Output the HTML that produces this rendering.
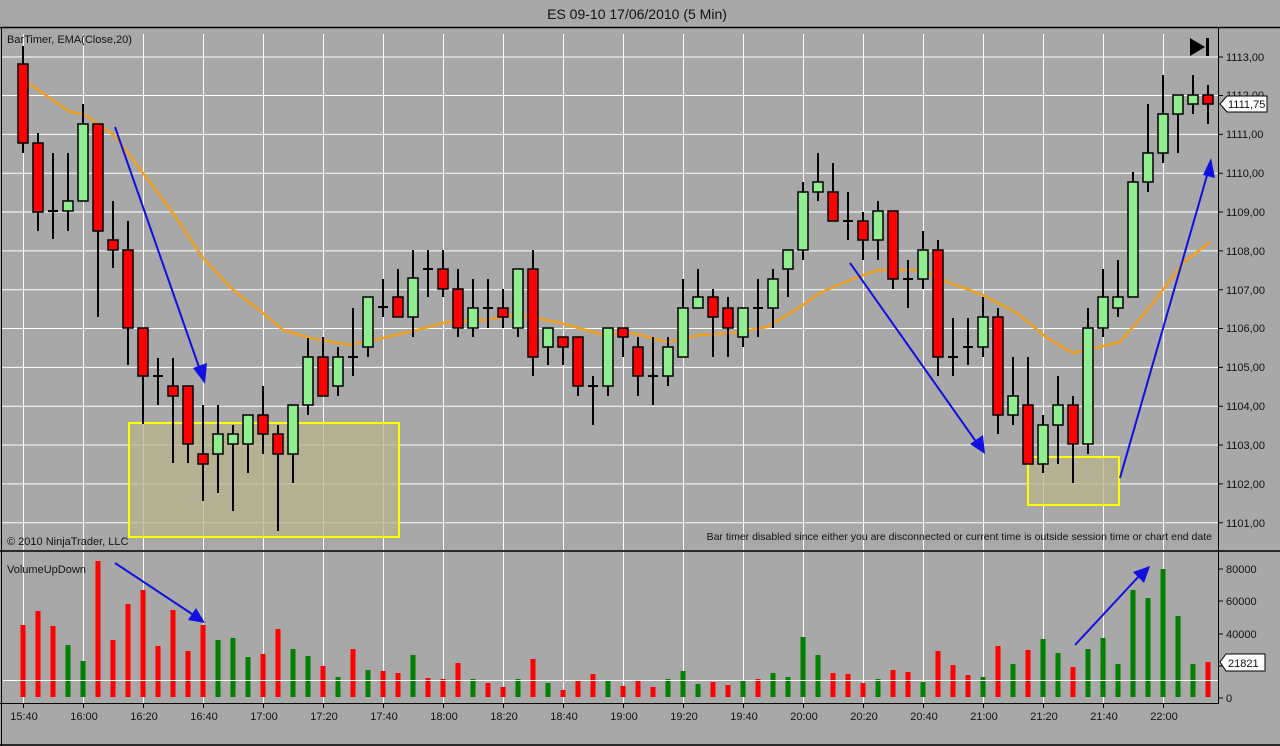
<!DOCTYPE html>
<html><head><meta charset="utf-8"><style>
html,body{margin:0;padding:0;background:#a8a8a8;}
svg{display:block;font-family:"Liberation Sans",sans-serif;}
</style></head><body>
<svg width="1280" height="746" viewBox="0 0 1280 746" xmlns="http://www.w3.org/2000/svg">
<rect width="1280" height="746" fill="#a8a8a8"/>
<text x="637" y="19" font-size="14" text-anchor="middle" fill="#111">ES 09-10  17/06/2010 (5 Min)</text>
<line x1="0" y1="27.5" x2="1280" y2="27.5" stroke="#000" stroke-width="1.5"/>
<line x1="1.5" y1="27" x2="1.5" y2="746" stroke="#000"/>
<line x1="1218.5" y1="27" x2="1218.5" y2="704" stroke="#000"/>
<line x1="0" y1="551" x2="1280" y2="551" stroke="#000" stroke-width="1.5"/>
<line x1="0" y1="703.5" x2="1218" y2="703.5" stroke="#000"/>
<line x1="0" y1="745" x2="1280" y2="745" stroke="#000" stroke-width="1.5"/>
<g stroke="#fff" stroke-width="1">
<line x1="2" y1="57" x2="1218" y2="57"/><line x1="2" y1="95.5" x2="1218" y2="95.5"/><line x1="2" y1="134.4" x2="1218" y2="134.4"/><line x1="2" y1="173.2" x2="1218" y2="173.2"/><line x1="2" y1="212" x2="1218" y2="212"/><line x1="2" y1="250.9" x2="1218" y2="250.9"/><line x1="2" y1="289.7" x2="1218" y2="289.7"/><line x1="2" y1="328.5" x2="1218" y2="328.5"/><line x1="2" y1="367.4" x2="1218" y2="367.4"/><line x1="2" y1="406.2" x2="1218" y2="406.2"/><line x1="2" y1="445" x2="1218" y2="445"/><line x1="2" y1="483.9" x2="1218" y2="483.9"/><line x1="2" y1="522.7" x2="1218" y2="522.7"/>
</g>
<g stroke="#fff" stroke-width="1">
<path d="M23.5 34V550M83.5 34V550M143.5 34V550M203.5 34V550M263.5 34V550M323.5 34V550M383.5 34V550M443.5 34V550M503.5 34V550M563.5 34V550M623.5 34V550M683.5 34V550M743.5 34V550M803.5 34V550M863.5 34V550M923.5 34V550M983.5 34V550M1043.5 34V550M1103.5 34V550M1163.5 34V550"/>
<path d="M23.5 552V703M83.5 552V703M143.5 552V703M203.5 552V703M263.5 552V703M323.5 552V703M383.5 552V703M443.5 552V703M503.5 552V703M563.5 552V703M623.5 552V703M683.5 552V703M743.5 552V703M803.5 552V703M863.5 552V703M923.5 552V703M983.5 552V703M1043.5 552V703M1103.5 552V703M1163.5 552V703"/>
</g>
<!-- yellow boxes -->
<rect x="129" y="423" width="270" height="114" fill="#b8b48c" fill-opacity="0.75" stroke="#ffff00" stroke-width="2"/>
<rect x="1028" y="457" width="91" height="48" fill="#b8b48c" fill-opacity="0.75" stroke="#ffff00" stroke-width="2"/>
<!-- EMA -->
<polyline fill="none" stroke="#f0a020" stroke-width="2.5" points="24,80 70,112 84,114 115,136 143,173 173,213 203,258 233,290 263,313 283,330 310,338 350,345 383,338 417,330 447,322 483,320 518,315 557,322 600,334 633,333 667,342 700,335 733,333 767,327 800,307 820,293 850,280 878,270 923,270 950,283 983,295 1017,313 1047,338 1073,353 1120,342 1150,307 1183,263 1210,242"/>
<!-- candles -->
<g stroke="#000" stroke-width="2">
<path d="M23 46V153M38 133V231M53 153V239M68 153V231M83 104V201M98 124V317M113 201V268M128 221V365M143 328V424M158 358V405M173 358V463M188 386V463M203 405V501M218 405V493M233 425V511M248 415V473M263 386V454M278 425V531M293 405V483M308 338V415M323 337V396M338 347V396M353 308V376M368 297V357M383 279V317M398 269V317M413 250V337M428 250V297M443 250V297M458 269V337M473 279V337M488 279V328M503 289V328M518 269V337M533 250V376M548 328V365M563 337V365M578 337V396M593 376V425M608 328V396M623 328V357M638 337V396M653 337V405M668 337V386M683 279V357M698 269V308M713 289V357M728 297V357M743 308V347M758 279V337M773 269V328M788 250V297M803 182V260M818 153V201M833 163V221M848 192V240M863 212V260M878 201V260M893 211V289M908 260V308M923 231V289M938 240V376M953 318V376M968 318V365M983 297V357M998 308V434M1013 357V425M1028 357V464M1043 415V473M1058 376V464M1073 396V483M1088 308V454M1103 269V337M1118 260V317M1133 172V297M1148 104V192M1163 75V163M1178 95V153M1193 75V114M1208 85V124"/>
<path d="M48 211H58M348 357H358M378 307H388M423 269H433M483 308H493M588 386H598M648 376H658M753 308H763M843 221H853M903 279H913M948 357H958M963 347H973M153 376H163"/>
</g>
<g stroke="#000" stroke-width="1.5" fill="#ff0000">
<rect x="18" y="64" width="10" height="79"/><rect x="33" y="143" width="10" height="69"/><rect x="93" y="124" width="10" height="107"/><rect x="108" y="240" width="10" height="10"/><rect x="123" y="250" width="10" height="78"/><rect x="138" y="328" width="10" height="48"/><rect x="168" y="386" width="10" height="10"/><rect x="183" y="386" width="10" height="58"/><rect x="198" y="454" width="10" height="10"/><rect x="258" y="415" width="10" height="19"/><rect x="273" y="434" width="10" height="20"/><rect x="318" y="357" width="10" height="39"/><rect x="393" y="297" width="10" height="20"/><rect x="438" y="269" width="10" height="20"/><rect x="453" y="289" width="10" height="39"/><rect x="498" y="308" width="10" height="9"/><rect x="528" y="269" width="10" height="88"/><rect x="558" y="337" width="10" height="10"/><rect x="573" y="337" width="10" height="49"/><rect x="618" y="328" width="10" height="9"/><rect x="633" y="347" width="10" height="29"/><rect x="708" y="297" width="10" height="20"/><rect x="723" y="308" width="10" height="20"/><rect x="828" y="192" width="10" height="29"/><rect x="858" y="221" width="10" height="19"/><rect x="888" y="211" width="10" height="68"/><rect x="933" y="250" width="10" height="107"/><rect x="993" y="317" width="10" height="98"/><rect x="1023" y="405" width="10" height="59"/><rect x="1068" y="405" width="10" height="39"/><rect x="1203" y="95" width="10" height="9"/>
</g>
<g stroke="#000" stroke-width="1.5" fill="#90ee90">
<rect x="63" y="201" width="10" height="10"/><rect x="78" y="124" width="10" height="77"/><rect x="213" y="434" width="10" height="20"/><rect x="228" y="434" width="10" height="10"/><rect x="243" y="415" width="10" height="29"/><rect x="288" y="405" width="10" height="49"/><rect x="303" y="357" width="10" height="48"/><rect x="333" y="357" width="10" height="29"/><rect x="363" y="297" width="10" height="50"/><rect x="408" y="278" width="10" height="39"/><rect x="468" y="308" width="10" height="20"/><rect x="513" y="269" width="10" height="59"/><rect x="543" y="328" width="10" height="19"/><rect x="603" y="328" width="10" height="58"/><rect x="663" y="347" width="10" height="29"/><rect x="678" y="308" width="10" height="49"/><rect x="693" y="297" width="10" height="11"/><rect x="738" y="308" width="10" height="29"/><rect x="768" y="279" width="10" height="29"/><rect x="783" y="250" width="10" height="19"/><rect x="798" y="192" width="10" height="58"/><rect x="813" y="182" width="10" height="10"/><rect x="873" y="211" width="10" height="29"/><rect x="918" y="250" width="10" height="29"/><rect x="978" y="317" width="10" height="30"/><rect x="1008" y="396" width="10" height="19"/><rect x="1038" y="425" width="10" height="39"/><rect x="1053" y="405" width="10" height="20"/><rect x="1083" y="328" width="10" height="116"/><rect x="1098" y="297" width="10" height="31"/><rect x="1113" y="297" width="10" height="11"/><rect x="1128" y="182" width="10" height="115"/><rect x="1143" y="153" width="10" height="29"/><rect x="1158" y="114" width="10" height="39"/><rect x="1173" y="95" width="10" height="19"/><rect x="1188" y="95" width="10" height="9"/>
</g>
<!-- price pane arrows -->
<g stroke="#1010e0" stroke-width="2" fill="#1010e0">
<line x1="115" y1="127" x2="200" y2="370"/><polygon points="205,384 193,368 207,363" stroke="none"/>
<line x1="850" y1="263" x2="977" y2="443"/><polygon points="985,454 970,444 983,435" stroke="none"/>
<line x1="1120" y1="478" x2="1208" y2="172"/><polygon points="1211,158 1203,175 1215,178" stroke="none"/>
</g>
<!-- texts -->
<text x="7" y="43" font-size="11" fill="#111">BarTimer, EMA(Close,20)</text>
<text x="7" y="545" font-size="11" fill="#111">© 2010 NinjaTrader, LLC</text>
<text x="1212" y="540" font-size="10.5" fill="#111" text-anchor="end">Bar timer disabled since either you are disconnected or current time is outside session time or chart end date</text>
<polygon points="1190,38 1190,56 1205,47" fill="#000"/><rect x="1206" y="38" width="3" height="18" fill="#000"/>
<!-- price axis -->
<g font-size="11" fill="#111">
<path d="M1218 57H1223M1218 95.5H1223M1218 134.4H1223M1218 173.2H1223M1218 212H1223M1218 250.9H1223M1218 289.7H1223M1218 328.5H1223M1218 367.4H1223M1218 406.2H1223M1218 445H1223M1218 483.9H1223M1218 522.7H1223" stroke="#000"/>
<text x="1226" y="61">1113,00</text><text x="1226" y="99">1112,00</text><text x="1226" y="138">1111,00</text><text x="1226" y="177">1110,00</text><text x="1226" y="216">1109,00</text><text x="1226" y="255">1108,00</text><text x="1226" y="294">1107,00</text><text x="1226" y="332">1106,00</text><text x="1226" y="371">1105,00</text><text x="1226" y="410">1104,00</text><text x="1226" y="449">1103,00</text><text x="1226" y="488">1102,00</text><text x="1226" y="527">1101,00</text>
</g>
<polygon points="1220,104 1227,96 1267,96 1267,112 1227,112" fill="#fff" stroke="#000"/>
<text x="1228" y="108" font-size="11" fill="#111">1111,75</text>
<!-- volume pane -->
<text x="7" y="573" font-size="11" fill="#111">VolumeUpDown</text>
<g fill="#ff0000">
<rect x="20.5" y="625" width="5" height="72"/><rect x="35.5" y="611" width="5" height="86"/><rect x="50.5" y="626" width="5" height="71"/><rect x="95.5" y="561" width="5" height="136"/><rect x="110.5" y="640" width="5" height="57"/><rect x="125.5" y="604" width="5" height="93"/><rect x="140.5" y="590" width="5" height="107"/><rect x="155.5" y="646" width="5" height="51"/><rect x="170.5" y="610" width="5" height="87"/><rect x="185.5" y="651" width="5" height="46"/><rect x="200.5" y="625" width="5" height="72"/><rect x="260.5" y="654" width="5" height="43"/><rect x="275.5" y="629" width="5" height="68"/><rect x="320.5" y="666" width="5" height="31"/><rect x="350.5" y="649" width="5" height="48"/><rect x="380.5" y="671" width="5" height="26"/><rect x="395.5" y="673" width="5" height="24"/><rect x="425.5" y="678" width="5" height="19"/><rect x="440.5" y="679" width="5" height="18"/><rect x="455.5" y="663" width="5" height="34"/><rect x="485.5" y="683" width="5" height="14"/><rect x="500.5" y="687" width="5" height="10"/><rect x="530.5" y="659" width="5" height="38"/><rect x="560.5" y="690" width="5" height="7"/><rect x="575.5" y="681" width="5" height="16"/><rect x="590.5" y="674" width="5" height="23"/><rect x="620.5" y="686" width="5" height="11"/><rect x="635.5" y="681" width="5" height="16"/><rect x="650.5" y="687" width="5" height="10"/><rect x="710.5" y="682" width="5" height="15"/><rect x="725.5" y="685" width="5" height="12"/><rect x="755.5" y="679" width="5" height="18"/><rect x="830.5" y="673" width="5" height="24"/><rect x="845.5" y="674" width="5" height="23"/><rect x="860.5" y="683" width="5" height="14"/><rect x="890.5" y="670" width="5" height="27"/><rect x="905.5" y="672" width="5" height="25"/><rect x="935.5" y="651" width="5" height="46"/><rect x="950.5" y="665" width="5" height="32"/><rect x="965.5" y="675" width="5" height="22"/><rect x="995.5" y="646" width="5" height="51"/><rect x="1025.5" y="650" width="5" height="47"/><rect x="1070.5" y="667" width="5" height="30"/><rect x="1205.5" y="662" width="5" height="35"/>
</g>
<g fill="#008000">
<rect x="65.5" y="645" width="5" height="52"/><rect x="80.5" y="661" width="5" height="36"/><rect x="215.5" y="640" width="5" height="57"/><rect x="230.5" y="638" width="5" height="59"/><rect x="245.5" y="657" width="5" height="40"/><rect x="290.5" y="649" width="5" height="48"/><rect x="305.5" y="656" width="5" height="41"/><rect x="335.5" y="677" width="5" height="20"/><rect x="365.5" y="670" width="5" height="27"/><rect x="410.5" y="655" width="5" height="42"/><rect x="470.5" y="679" width="5" height="18"/><rect x="515.5" y="679" width="5" height="18"/><rect x="545.5" y="683" width="5" height="14"/><rect x="605.5" y="681" width="5" height="16"/><rect x="665.5" y="679" width="5" height="18"/><rect x="680.5" y="671" width="5" height="26"/><rect x="695.5" y="684" width="5" height="13"/><rect x="740.5" y="681" width="5" height="16"/><rect x="770.5" y="673" width="5" height="24"/><rect x="785.5" y="677" width="5" height="20"/><rect x="800.5" y="637" width="5" height="60"/><rect x="815.5" y="655" width="5" height="42"/><rect x="875.5" y="679" width="5" height="18"/><rect x="920.5" y="682" width="5" height="15"/><rect x="980.5" y="677" width="5" height="20"/><rect x="1010.5" y="664" width="5" height="33"/><rect x="1040.5" y="639" width="5" height="58"/><rect x="1055.5" y="653" width="5" height="44"/><rect x="1085.5" y="649" width="5" height="48"/><rect x="1100.5" y="638" width="5" height="59"/><rect x="1115.5" y="664" width="5" height="33"/><rect x="1130.5" y="590" width="5" height="107"/><rect x="1145.5" y="598" width="5" height="99"/><rect x="1160.5" y="569" width="5" height="128"/><rect x="1175.5" y="616" width="5" height="81"/><rect x="1190.5" y="664" width="5" height="33"/>
</g>
<line x1="3" y1="680.5" x2="1218" y2="680.5" stroke="#fff" stroke-width="1"/>
<g stroke="#1010e0" stroke-width="2" fill="#1010e0">
<line x1="115" y1="563" x2="195" y2="616"/><polygon points="205,623 188,620 196,608" stroke="none"/>
<line x1="1075" y1="645" x2="1140" y2="575"/><polygon points="1150,566 1144,583 1133,572" stroke="none"/>
</g>
<g font-size="11" fill="#111">
<path d="M1218 569H1223M1218 601H1223M1218 634H1223M1218 666H1223M1218 698H1223" stroke="#000"/>
<text x="1226" y="573">80000</text><text x="1226" y="605">60000</text><text x="1226" y="638">40000</text><text x="1226" y="702">0</text>
</g>
<polygon points="1220,662 1226,654 1265,654 1265,671 1226,671" fill="#fff" stroke="#000"/>
<text x="1228" y="667" font-size="11" fill="#111">21821</text>
<!-- time axis -->
<path d="M23.5 703V708M83.5 703V708M143.5 703V708M203.5 703V708M263.5 703V708M323.5 703V708M383.5 703V708M443.5 703V708M503.5 703V708M563.5 703V708M623.5 703V708M683.5 703V708M743.5 703V708M803.5 703V708M863.5 703V708M923.5 703V708M983.5 703V708M1043.5 703V708M1103.5 703V708M1163.5 703V708" stroke="#000"/>
<g font-size="11" fill="#111" text-anchor="middle">
<text x="24" y="720">15:40</text><text x="84" y="720">16:00</text><text x="144" y="720">16:20</text><text x="204" y="720">16:40</text><text x="264" y="720">17:00</text><text x="324" y="720">17:20</text><text x="384" y="720">17:40</text><text x="444" y="720">18:00</text><text x="504" y="720">18:20</text><text x="564" y="720">18:40</text><text x="624" y="720">19:00</text><text x="684" y="720">19:20</text><text x="744" y="720">19:40</text><text x="804" y="720">20:00</text><text x="864" y="720">20:20</text><text x="924" y="720">20:40</text><text x="984" y="720">21:00</text><text x="1044" y="720">21:20</text><text x="1104" y="720">21:40</text><text x="1164" y="720">22:00</text>
</g>
</svg>
</body></html>
